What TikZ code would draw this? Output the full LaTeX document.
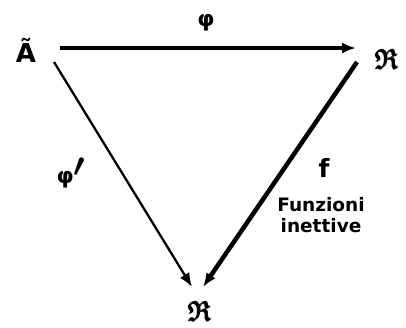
\documentclass[tikz,border=0pt]{standalone}
\usepackage{amsmath,amssymb}
\usepackage{fontspec}
\setmainfont{DejaVu Sans}
\usetikzlibrary{arrows.meta}
\begin{document}
\begin{tikzpicture}[x=1pt,y=-1pt,
  lbl/.style={inner sep=0pt,font=\bfseries},
  arr/.style={draw=black,-{Latex[length=14pt,width=11pt]}},
  frak/.style={inner sep=0pt},
]
\useasboundingbox (0,0) rectangle (406,327);
\node[lbl,font=\bfseries\fontsize{26}{26}\selectfont] (A) at (26,50) {Ã};
\node[frak] (R1) at (387,59) {\scalebox{2.8}{$\pmb{\mathfrak{R}}$}};
\node[frak] (R2) at (200,311) {\scalebox{2.8}{$\pmb{\mathfrak{R}}$}};
\node[lbl,font=\bfseries\fontsize{22}{22}\selectfont] (phi) at (206,23) {φ};
\node[lbl,font=\bfseries\fontsize{22}{22}\selectfont] (phip) at (71,173) {φ\raisebox{7pt}{\scalebox{1.6}{$\boldsymbol{\prime}$}}};
\node[lbl,font=\bfseries\fontsize{25}{25}\selectfont] (f) at (324,168) {f};
\node[lbl,font=\bfseries\fontsize{18.5}{21}\selectfont,align=center] (fi) at (321,215) {Funzioni\\inettive};
\coordinate (a1) at (60,48);
\coordinate (b1) at (356,48);
\coordinate (a2) at (54,62);
\coordinate (b2) at (192,287);
\coordinate (a3) at (357,62);
\coordinate (b3) at (203,287);
\draw[arr,line width=3.5pt] (a1) -- (b1);
\draw[arr,line width=2.3pt] (a2) -- (b2);
\draw[arr,line width=4.5pt] (a3) -- (b3);
\end{tikzpicture}
\end{document}
